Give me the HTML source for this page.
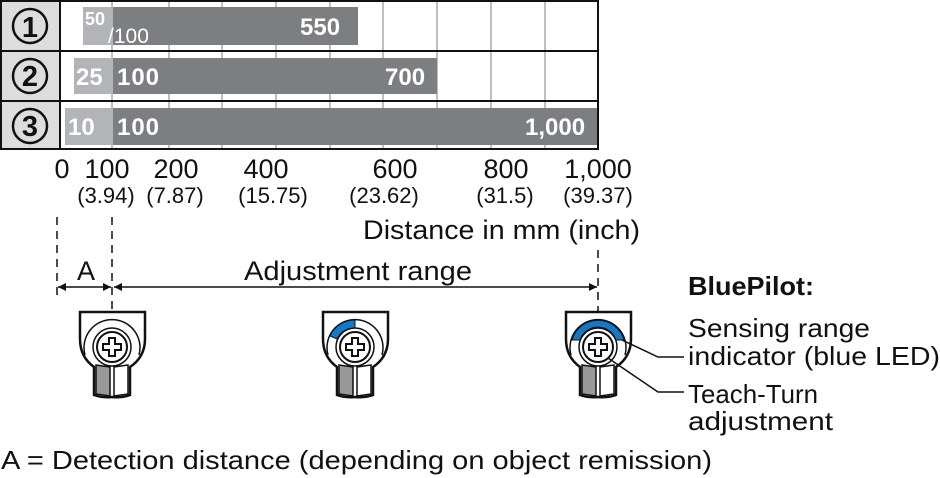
<!DOCTYPE html>
<html><head><meta charset="utf-8"><style>
html,body{margin:0;padding:0;background:#fff;}
svg{display:block;font-family:"Liberation Sans",sans-serif;}
</style></head><body>
<svg width="940" height="478" viewBox="0 0 940 478" xmlns="http://www.w3.org/2000/svg">
<defs>
<marker id="ar" viewBox="0 0 10 10" refX="10" refY="5" markerWidth="12" markerHeight="8" orient="auto-start-reverse" markerUnits="userSpaceOnUse"><path d="M0,0 L10,5 L0,10 z" fill="#111"/></marker>
<g id="dev">
  <path d="M-32,-35 L33,-35 L33,-8 Q33,10 18,20 L18,48 Q10,51 0,50 Q-10,51 -18,48 L-18,20 Q-32,10 -32,-8 Z" fill="#fff" stroke="#111" stroke-width="2.5"/>
  <path d="M-16,18 L-2,20 L-2,49 L-16,47 Z" fill="#999" stroke="#111" stroke-width="1.5"/>
  <path d="M2,20 L16,18 L16,47 L2,49 Z" fill="#fff" stroke="#111" stroke-width="1.5"/>
  <path d="M-27,8 A28,28 0 1 1 27,8" fill="none" stroke="#111" stroke-width="1.5"/>
  <circle r="19" fill="#fff" stroke="#111" stroke-width="1.5"/>
  <circle r="15" fill="#fff" stroke="#111" stroke-width="2"/>
  <path d="M-3,-9 h6 v6 h6 v6 h-6 v6 h-6 v-6 h-6 v-6 h6 z" fill="#fff" stroke="#111" stroke-width="2"/>
</g>
</defs>
<rect x="1" y="1" width="59" height="148" fill="#ddd"/>
<g stroke="#aaa" stroke-width="1.5">
<line x1="112" y1="1" x2="112" y2="149"/><line x1="169" y1="1" x2="169" y2="149"/><line x1="222" y1="1" x2="222" y2="149"/><line x1="276" y1="1" x2="276" y2="149"/><line x1="330" y1="1" x2="330" y2="149"/><line x1="383" y1="1" x2="383" y2="149"/><line x1="437" y1="1" x2="437" y2="149"/><line x1="491" y1="1" x2="491" y2="149"/><line x1="545" y1="1" x2="545" y2="149"/>
</g>
<rect x="83" y="7" width="30" height="38" fill="#b3b4b8"/>
<rect x="113" y="7" width="245" height="38" fill="#7d7e82"/>
<rect x="74" y="58" width="39" height="36" fill="#b3b4b8"/>
<rect x="113" y="58" width="324" height="36" fill="#7d7e82"/>
<rect x="65" y="108" width="48" height="37" fill="#b3b4b8"/>
<rect x="113" y="108" width="485" height="37" fill="#7d7e82"/>
<g stroke="#111" stroke-width="2" fill="none">
<rect x="1" y="1" width="597" height="148"/>
<line x1="60" y1="1" x2="60" y2="149"/>
<line x1="1" y1="51" x2="598" y2="51"/>
<line x1="1" y1="101" x2="598" y2="101"/>
</g>
<g text-anchor="middle" fill="#111" font-weight="bold">
<circle cx="30" cy="26" r="17" fill="none" stroke="#111" stroke-width="2.5"/><text x="30" y="37" font-size="29">1</text>
<circle cx="30" cy="76" r="17" fill="none" stroke="#111" stroke-width="2.5"/><text x="30" y="86" font-size="29">2</text>
<circle cx="30" cy="126" r="17" fill="none" stroke="#111" stroke-width="2.5"/><text x="30" y="136" font-size="29">3</text>
</g>
<g fill="#fff" font-size="24" font-weight="bold">
<text x="85" y="25" font-size="18">50</text>
<text x="108" y="43" font-size="21" font-weight="normal">/100</text>
<text x="300" y="35">550</text>
<text x="76" y="85">25</text><text x="117" y="85" textLength="42">100</text><text x="385" y="85">700</text>
<text x="68" y="135">10</text><text x="117" y="135" textLength="42">100</text><text x="525" y="135">1,000</text>
</g>
<g font-size="27" fill="#111" text-anchor="middle">
<text x="62" y="178">0</text><text x="107" y="178">100</text><text x="176" y="178">200</text><text x="266" y="178">400</text><text x="395" y="178">600</text><text x="506" y="178">800</text><text x="598" y="178">1,000</text>
</g>
<g font-size="22" fill="#111" text-anchor="middle">
<text x="106" y="203">(3.94)</text><text x="175" y="203">(7.87)</text><text x="273" y="203">(15.75)</text><text x="384" y="203">(23.62)</text><text x="505" y="203">(31.5)</text><text x="598" y="203">(39.37)</text>
</g>
<text x="363" y="239" font-size="27" fill="#111" textLength="277" lengthAdjust="spacingAndGlyphs">Distance in mm (inch)</text>
<g stroke="#111" stroke-width="1.5" stroke-dasharray="8,6">
<line x1="57" y1="217" x2="57" y2="300"/><line x1="112" y1="217" x2="112" y2="310"/><line x1="598" y1="250" x2="598" y2="312"/>
</g>
<g stroke="#111" stroke-width="1.5">
<line x1="58" y1="287" x2="111" y2="287" marker-start="url(#ar)" marker-end="url(#ar)"/>
<line x1="114" y1="287" x2="597" y2="287" marker-start="url(#ar)" marker-end="url(#ar)"/>
</g>
<text x="86" y="280" font-size="27" text-anchor="middle" fill="#111">A</text>
<text x="244" y="280" font-size="27" fill="#111" textLength="228" lengthAdjust="spacingAndGlyphs">Adjustment range</text>
<use href="#dev" x="112" y="347"/>
<use href="#dev" x="355" y="347"/>
<use href="#dev" x="598" y="347"/>
<path d="M330,336 A27,27 0 0 1 355,320 L355,328 A19,19 0 0 0 337,339 Z" fill="#1478c8" stroke="#111" stroke-width="1"/>
<path d="M572,340 A27,27 0 0 1 624,340 L616,340 A19,19 0 0 0 580,340 Z" fill="#1478c8" stroke="#111" stroke-width="1"/>
<g stroke="#111" stroke-width="1.5" fill="none">
<polyline points="622,340 658,357 684,357"/>
<polyline points="608,358 658,392 684,392"/>
</g>
<g fill="#111" font-size="26">
<text x="688" y="295" font-weight="bold" textLength="126" lengthAdjust="spacingAndGlyphs">BluePilot:</text>
<text x="688" y="337" textLength="182" lengthAdjust="spacingAndGlyphs">Sensing range</text>
<text x="688" y="365" textLength="252" lengthAdjust="spacingAndGlyphs">indicator (blue LED)</text>
<text x="688" y="403" textLength="130" lengthAdjust="spacingAndGlyphs">Teach-Turn</text>
<text x="688" y="430" textLength="145" lengthAdjust="spacingAndGlyphs">adjustment</text>
<text x="1" y="469" textLength="711" lengthAdjust="spacingAndGlyphs">A = Detection distance (depending on object remission)</text>
</g>
</svg>
</body></html>
